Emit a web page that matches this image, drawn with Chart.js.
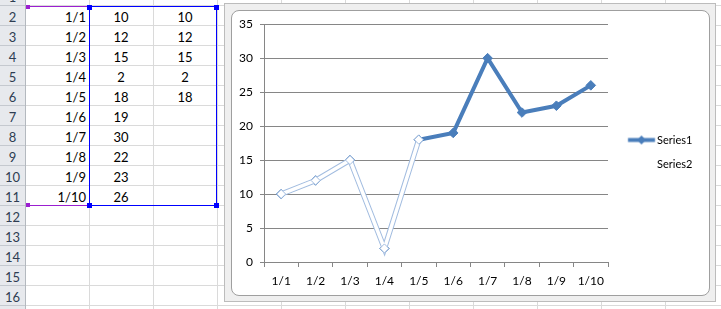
<!DOCTYPE html>
<html>
<head>
<meta charset="utf-8">
<script src="https://cdn.jsdelivr.net/npm/chart.js@4/dist/chart.umd.min.js"></script>
<style>
html,body{margin:0;padding:0;width:721px;height:309px;overflow:hidden;background:#fff;font-family:Lato,"Liberation Sans",sans-serif;}
#sheet{position:absolute;left:0;top:0;width:721px;height:309px;overflow:hidden;}
#sheet div{position:absolute;}
.txt{height:20px;line-height:20px;font-size:13px;color:#000;white-space:nowrap;}
#frame{position:absolute;left:224px;top:3px;width:492px;height:299px;box-sizing:border-box;border:1px solid #bcbcbc;background:#efefef;}
#inner{position:absolute;left:231px;top:10px;width:479px;height:286px;box-sizing:border-box;border:1px solid #9f9f9f;border-radius:8px;background:#fff;}
#wrap{position:absolute;left:231px;top:10px;width:479px;height:286px;}
</style>
</head>
<body>
<div id="sheet"></div>
<div id="frame"></div>
<div id="inner"></div>
<div id="wrap"><canvas id="c" width="479" height="286"></canvas></div>
<script>
// ---- data ----
const categories = ['1/1','1/2','1/3','1/4','1/5','1/6','1/7','1/8','1/9','1/10'];
const series1 = [10, 12, 15, 2, 18, 19, 30, 22, 23, 26];
const series2 = [10, 12, 15, 2, 18, null, null, null, null, null];
const seriesNames = ['Series1', 'Series2'];
const rowNumbers = [1,2,3,4,5,6,7,8,9,10,11,12,13,14,15,16,17];
const yTickMin = 0, yTickMax = 35, yTickStep = 5;

// ---- spreadsheet ----
const sheet = document.getElementById('sheet');
function add(style, text, cls){
  const d = document.createElement('div');
  if (cls) d.className = cls;
  for (const k in style) d.style[k] = style[k];
  if (text != null) d.textContent = text;
  sheet.appendChild(d);
  return d;
}
const ROW_H = 20, FIRST_LINE = 5, HDR_W = 25, COL_W = 64, COL_A_END = 89;
add({left:'0px', top:'0px', width:HDR_W+'px', height:'309px', background:'#e7e9ed'});
for (let r = 1; r <= 16; r++) {
  const y = FIRST_LINE + (r - 1) * ROW_H;
  add({left:'0px', top:y+'px', width:HDR_W+'px', height:'1px', background:'#c5c9cf'});
  add({left:(HDR_W+1)+'px', top:y+'px', width:'700px', height:'1px', background:'#dadada'});
}
add({left:HDR_W+'px', top:'0px', width:'1px', height:'309px', background:'#b4b9bf'});
for (let k = 0; k <= 10; k++) {
  add({left:(COL_A_END + k*COL_W)+'px', top:'0px', width:'1px', height:'309px', background:'#dadada'});
}
rowNumbers.forEach((n) => {
  const top = FIRST_LINE + (n - 2) * ROW_H + 2;
  add({left:'0px', top:top+'px', width:HDR_W+'px', textAlign:'center', color:'#2e3d52'}, String(n), 'txt');
});
categories.forEach((c, i) => {
  const top = FIRST_LINE + i * ROW_H + 2;
  add({left:HDR_W+'px', top:top+'px', width:(COL_A_END-HDR_W-3)+'px', textAlign:'right'}, c, 'txt');
  add({left:COL_A_END+'px', top:top+'px', width:COL_W+'px', textAlign:'center'}, String(series1[i]), 'txt');
  if (series2[i] != null)
    add({left:(COL_A_END+COL_W)+'px', top:top+'px', width:COL_W+'px', textAlign:'center'}, String(series2[i]), 'txt');
});
// selection outlines
const selTop = 6, selBot = FIRST_LINE + categories.length * ROW_H;
const purple = '#9b1fd0', selBlue = '#0000ff';
add({left:'27px', top:selTop+'px', width:(COL_A_END-27)+'px', height:'1px', background:purple});
add({left:'27px', top:selBot+'px', width:(COL_A_END-27)+'px', height:'1px', background:purple});
add({left:'26px', top:(selTop-1)+'px', width:'4px', height:'4px', background:purple});
add({left:'26px', top:(selBot-2)+'px', width:'4px', height:'4px', background:purple});
add({left:COL_A_END+'px', top:selTop+'px', width:'128px', height:'1px', background:selBlue});
add({left:COL_A_END+'px', top:selBot+'px', width:'128px', height:'1px', background:selBlue});
add({left:COL_A_END+'px', top:selTop+'px', width:'1px', height:(selBot-selTop)+'px', background:selBlue});
add({left:'216px', top:selTop+'px', width:'1px', height:(selBot-selTop)+'px', background:selBlue});
[[87, selTop-1],[214, selTop-1],[87, selBot-2],[214, selBot-2]].forEach(([x,y]) =>
  add({left:x+'px', top:y+'px', width:'5px', height:'5px', background:selBlue}));

// ---- chart ----
const FONT = 'Lato';
const blue = '#4a7ebb';
const lightBlue = '#a3bde0';

function legendImage(withLine){
  const c = document.createElement('canvas');
  c.width = 40; c.height = 11;
  if (withLine) {
    const g = c.getContext('2d');
    g.strokeStyle = blue; g.lineWidth = 4;
    g.beginPath(); g.moveTo(11.75, 5.5); g.lineTo(38.75, 5.5); g.stroke();
    g.fillStyle = blue;
    g.beginPath(); g.moveTo(25.25, 1); g.lineTo(29.75, 5.5); g.lineTo(25.25, 10); g.lineTo(20.75, 5.5); g.closePath(); g.fill();
  }
  return c;
}
const legendImgs = [legendImage(true), legendImage(false)];

const meas = document.createElement('canvas').getContext('2d');
meas.font = '11px ' + FONT;
const textW = Math.max(...seriesNames.map(s => meas.measureText(s).width));
const LEG_PAD = 13, PSW = 30.5;
const legendW = LEG_PAD + PSW + 5.5 + textW + 10;
const padRight = 479 - 377 - legendW;

// shifts the legend's vertical band so its items sit where Excel puts them
const legendBand = {
  id: 'legendBand',
  afterLayout(chart) {
    const lg = chart.legend;
    if (lg) { lg.bottom -= 15; }
  }
};

new Chart(document.getElementById('c'), {
  type: 'line',
  plugins: [legendBand],
  data: {
    labels: categories,
    datasets: [
      { label: seriesNames[0], data: series1, borderColor: blue, backgroundColor: blue,
        borderWidth: 4, pointStyle: 'rectRot', pointRadius: 4.8, pointBorderWidth: 1,
        pointBackgroundColor: blue, pointBorderColor: blue, order: 3, tension: 0 },
      { label: seriesNames[1], data: series2, borderColor: '#ffffff', backgroundColor: '#ffffff',
        borderWidth: 3.5, pointStyle: 'rectRot', pointRadius: 4.5, pointBorderWidth: 1,
        pointBackgroundColor: '#ffffff', pointBorderColor: lightBlue, order: 1, tension: 0 },
      { label: 'outline', data: series2, borderColor: lightBlue, borderWidth: 5.5,
        pointRadius: 0, order: 2, tension: 0 }
    ]
  },
  options: {
    responsive: false,
    animation: false,
    devicePixelRatio: 1,
    layout: { padding: { top: 13, left: 0, right: padRight, bottom: 0 } },
    plugins: {
      tooltip: { enabled: false },
      legend: {
        position: 'right',
        labels: {
          usePointStyle: true,
          pointStyleWidth: PSW,
          padding: LEG_PAD,
          color: '#000',
          font: { family: FONT, size: 11 },
          generateLabels: (chart) => seriesNames.map((name, i) => ({
            text: name, datasetIndex: i, pointStyle: legendImgs[i],
            fillStyle: blue, strokeStyle: blue, lineWidth: 0, hidden: false, fontColor: '#000'
          }))
        }
      }
    },
    scales: {
      x: {
        offset: true,
        grid: { offset: true, drawOnChartArea: false, drawTicks: true, tickLength: 5, color: '#868686' },
        border: { color: '#868686', width: 1 },
        ticks: { color: '#000', font: { family: FONT, size: 12 }, padding: 7, maxRotation: 0, autoSkip: false },
        afterFit: (s) => { s.height = 34; }
      },
      y: {
        min: yTickMin, max: yTickMax,
        grid: { color: '#868686', tickLength: 4, drawTicks: true },
        border: { color: '#868686', width: 1 },
        ticks: { stepSize: yTickStep, color: '#000', font: { family: FONT, size: 12 }, padding: 7 },
        afterFit: (s) => { s.width = 33; }
      }
    }
  }
});
</script>
</body>
</html>
